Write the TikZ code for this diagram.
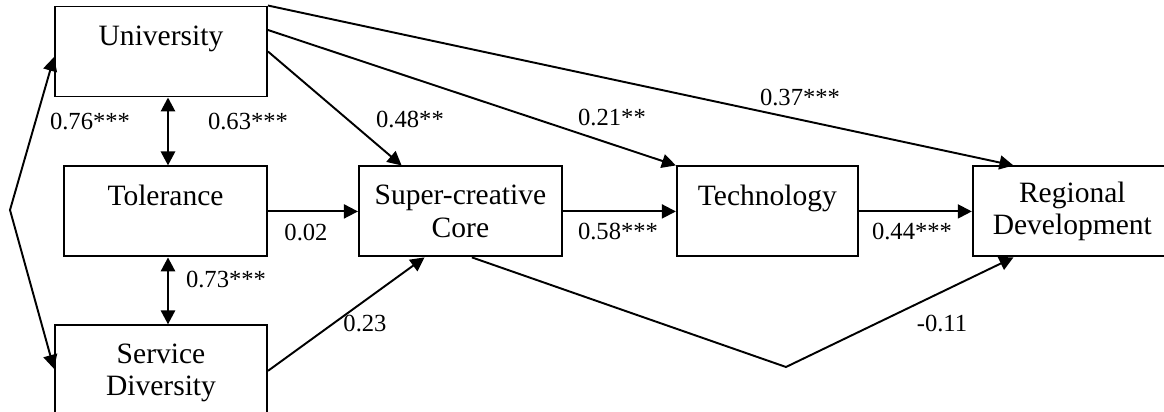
\documentclass[tikz,border=0pt]{standalone}
\usepackage{fontspec}
\setmainfont{Liberation Serif}
\usetikzlibrary{arrows.meta,positioning}

\begin{document}
\begin{tikzpicture}[
        >={Triangle[length=0.28cm,width=0.28cm]},
        line width=1.1pt,
        box/.style={
            rectangle,
            draw,
            align=center,
            minimum height=1.8cm,
            inner sep=0pt,
            font=\fontsize{16.8}{18.7}\selectfont
        },
        oneline/.style={
            text height=11.4pt,
            text depth=18.7pt
        },
        coef/.style={
            font=\fontsize{14}{16}\selectfont,
            inner sep=0pt
        },
        link/.style={
            draw,
            ->
        },
        twoway/.style={
            draw,
            <->,
            line width=1.6pt
        }
    ]

    \useasboundingbox (0,0) rectangle (23.28,-8.24);

    % Boxes
    \node [box, oneline, minimum width=4.24cm] (uni) at (3.22,-1.03) {University};
    \node [box, oneline, minimum width=4.06cm, below=1.36cm of uni.south east, anchor=north east] (tol) {Tolerance};
    \node [box, minimum width=4.24cm, minimum height=1.9cm, below=1.34cm of tol.south east, anchor=north east] (serv) {Service\\Diversity};
    \node [box, minimum width=4.06cm, right=1.8cm of tol] (core) {Super-creative\\Core};
    \node [box, oneline, minimum width=3.62cm, right=2.26cm of core] (tech) {Technology};
    \node [box, minimum width=3.98cm, right=2.26cm of tech] (reg) {Regional\\Development};

    \coordinate (kink) at (0.2,-4.2);
    \coordinate (dip) at (15.72,-7.34);

    % Correlations
    \path [twoway] ([xshift=0.05cm]tol.north |- uni.south) -- ([xshift=0.05cm]tol.north);
    \path [twoway] ([xshift=0.05cm]tol.south) -- ([xshift=0.05cm]tol.south |- serv.north);
    \draw [<->] ([yshift=-0.11cm]uni.west) -- (kink) -- ([yshift=0.08cm]serv.west);

    % Paths
    \path [link] (uni.east) -- (core.142);
    \path [link] ([yshift=0.43cm]uni.east) -- (tech.north west);
    \path [link] (uni.north east) -- (reg.142);
    \path [link] (tol) -- (core);
    \path [link] (core) -- (tech);
    \path [link] (tech) -- (reg);
    \path [link] ([yshift=0.04cm]serv.east) -- (core.232);
    \path [link] (core.284) -- (dip) -- (reg.218);

    % Coefficients
    \node [coef] (r-uni-serv) at (1.80,-2.44) {0.76***};
    \node [coef] (r-uni-tol) at (4.96,-2.44) {0.63***};
    \node [coef] (b-uni-core) at (8.20,-2.40) {0.48**};
    \node [coef] (b-uni-tech) at (12.24,-2.36) {0.21**};
    \node [coef] (b-uni-reg) at (16.00,-1.96) {0.37***};
    \node [coef] (b-tol-core) at (6.12,-4.66) {0.02};
    \node [coef] (b-core-tech) at (12.36,-4.64) {0.58***};
    \node [coef] (b-tech-reg) at (18.24,-4.64) {0.44***};
    \node [coef] (r-tol-serv) at (4.52,-5.60) {0.73***};
    \node [coef] (b-serv-core) at (7.30,-6.46) {0.23};
    \node [coef] (b-core-reg) at (18.84,-6.46) {-0.11};

\end{tikzpicture}
\end{document}
